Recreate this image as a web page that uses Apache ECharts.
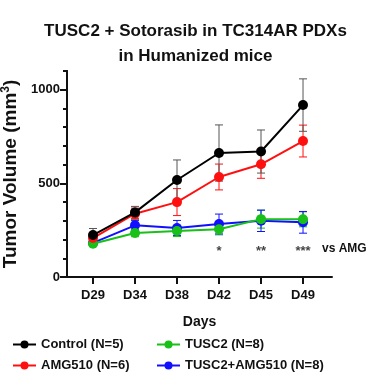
<!DOCTYPE html>
<html><head><meta charset="utf-8">
<script src="https://cdn.jsdelivr.net/npm/echarts@6/dist/echarts.min.js"></script>
<style>html,body{margin:0;padding:0;background:#fff}#c{width:391px;height:386px}</style>
</head><body><div id="c"></div>
<script>
const days = ['D29','D34','D38','D42','D45','D49'];
const controlMean = [224, 345, 518, 662, 670, 918];
const controlErr  = [35, 32, 107, 150, 115, 140];
const amgMean     = [208, 338, 400, 534, 602, 726];
const amgErr      = [25, 30, 72, 69, 75, 85];
const tusc2Mean   = [178, 235, 246, 255, 309, 308];
const tusc2Err    = [12, 20, 30, 30, 48, 40];
const comboMean   = [182, 276, 262, 283, 300, 292];
const comboErr    = [14, 25, 40, 53, 57, 58];
const sigLabels   = ['', '', '', '*', '**', '***'];
const yMajorTicks = [0, 500, 1000];

const FONT = 'Liberation Sans, Arial, sans-serif';
const chart = echarts.init(document.getElementById('c'), null, {renderer:'canvas'});

function toLine(name, mean, color, z) {
  return {
    name, type:'line', data: mean.map((v,i)=>[i,v]), color,
    symbol:'circle', symbolSize:10, z,
    lineStyle:{width:2, color}, itemStyle:{color},
    emphasis:{disabled:true}
  };
}
function toErr(name, mean, err, color, z) {
  return {
    name: name + ' SEM', type:'custom', z, color, silent:true,
    data: mean.map((v,i)=>[i, v-err[i], v+err[i]]),
    encode:{x:0, y:[1,2]},
    renderItem(params, api) {
      const lo = api.coord([api.value(0), api.value(1)]);
      const hi = api.coord([api.value(0), api.value(2)]);
      const w = 4;
      const st = {stroke: color, lineWidth: 1};
      return {type:'group', children:[
        {type:'line', shape:{x1:lo[0],y1:lo[1],x2:hi[0],y2:hi[1]}, style:st},
        {type:'line', shape:{x1:lo[0]-w,y1:lo[1],x2:lo[0]+w,y2:lo[1]}, style:st},
        {type:'line', shape:{x1:hi[0]-w,y1:hi[1],x2:hi[0]+w,y2:hi[1]}, style:st}
      ]};
    }
  };
}

const cBlack = '#000000', cRed = '#ff1010', cGreen = '#18c018', cBlue = '#1010ff';

chart.setOption({
  animation:false,
  textStyle:{fontFamily:FONT},
  title:{
    text:'TUSC2 + Sotorasib in TC314AR PDXs\nin Humanized mice',
    left:'center', top:14,
    textStyle:{fontFamily:FONT, fontWeight:'bold', fontSize:17, lineHeight:25, color:'#111'}
  },
  grid:{left:67, right:59, top:71, bottom:109, containLabel:false, outerBoundsMode:'none'},
  legend:[
    {data:['Control (N=5)','AMG510 (N=6)'], orient:'vertical', left:7, top:333, itemGap:8,
     itemWidth:23, itemHeight:10,
     textStyle:{fontFamily:FONT, fontWeight:'bold', fontSize:13, color:'#111'}},
    {data:['TUSC2 (N=8)','TUSC2+AMG510 (N=8)'], orient:'vertical', left:151, top:333, itemGap:8,
     itemWidth:23, itemHeight:10,
     textStyle:{fontFamily:FONT, fontWeight:'bold', fontSize:13, color:'#111'}}
  ],
  xAxis:{
    type:'value', min:-0.619, max:5.69,
    name:'Days', nameLocation:'middle', nameGap:38,
    nameTextStyle:{fontFamily:FONT, fontWeight:'bold', fontSize:14, color:'#111'},
    axisLine:{onZero:false, lineStyle:{color:'#111', width:2}},
    axisTick:{customValues:[0,1,2,3,4,5], length:7, lineStyle:{color:'#111', width:2}},
    axisLabel:{customValues:[0,1,2,3,4,5], formatter:v=>days[Math.round(v)], margin:12,
      fontFamily:FONT, fontWeight:'bold', fontSize:13, color:'#111'},
    splitLine:{show:false}
  },
  yAxis:[
    {type:'value', min:0, max:1100, interval:100,
     name:'Tumor Volume (mm{sup|3})', nameLocation:'middle', nameGap:36,
     nameTextStyle:{fontFamily:FONT, fontWeight:'bold', fontSize:19, color:'#111',
       rich:{sup:{fontFamily:FONT, fontWeight:'bold', fontSize:12, verticalAlign:'top', padding:[0,0,9,0], color:'#111'}}},
     axisLine:{show:true, onZero:false, lineStyle:{color:'#111', width:2}},
     axisTick:{show:true, length:4, lineStyle:{color:'#111', width:2}},
     axisLabel:{customValues:yMajorTicks, formatter:v=>String(v), margin:7, fontFamily:FONT, fontWeight:'bold', fontSize:13, color:'#111'},
     splitLine:{show:false}},
    {type:'value', min:0, max:1100, position:'left', offset:0,
     axisLine:{show:true, onZero:false, lineStyle:{color:'#111', width:2}},
     axisTick:{show:true, customValues:yMajorTicks, length:7, lineStyle:{color:'#111', width:2}},
     axisLabel:{show:false},
     splitLine:{show:false}}
  ],
  series:[
    toErr('TUSC2 (N=8)', tusc2Mean, tusc2Err, cGreen, 2),
    toErr('TUSC2+AMG510 (N=8)', comboMean, comboErr, cBlue, 2),
    toErr('AMG510 (N=6)', amgMean, amgErr, cRed, 2),
    toErr('Control (N=5)', controlMean, controlErr, '#555', 2),
    toLine('TUSC2+AMG510 (N=8)', comboMean, cBlue, 3),
    toLine('TUSC2 (N=8)', tusc2Mean, cGreen, 4),
    toLine('AMG510 (N=6)', amgMean, cRed, 5),
    toLine('Control (N=5)', controlMean, cBlack, 6),
    {type:'scatter', symbolSize:0, z:7, silent:true,
     data: sigLabels.map((s,i)=>[i,135,s]).filter(d=>d[2]),
     label:{show:true, position:'inside', formatter:p=>p.value[2],
       fontFamily:FONT, fontWeight:'bold', fontSize:13, color:'#111'}}
  ],
  graphic:[
    {type:'text', left:322, top:243,
     style:{text:'vs AMG', fontFamily:FONT, fontWeight:'bold', fontSize:12, fill:'#111'}}
  ]
});
</script>
</body></html>
